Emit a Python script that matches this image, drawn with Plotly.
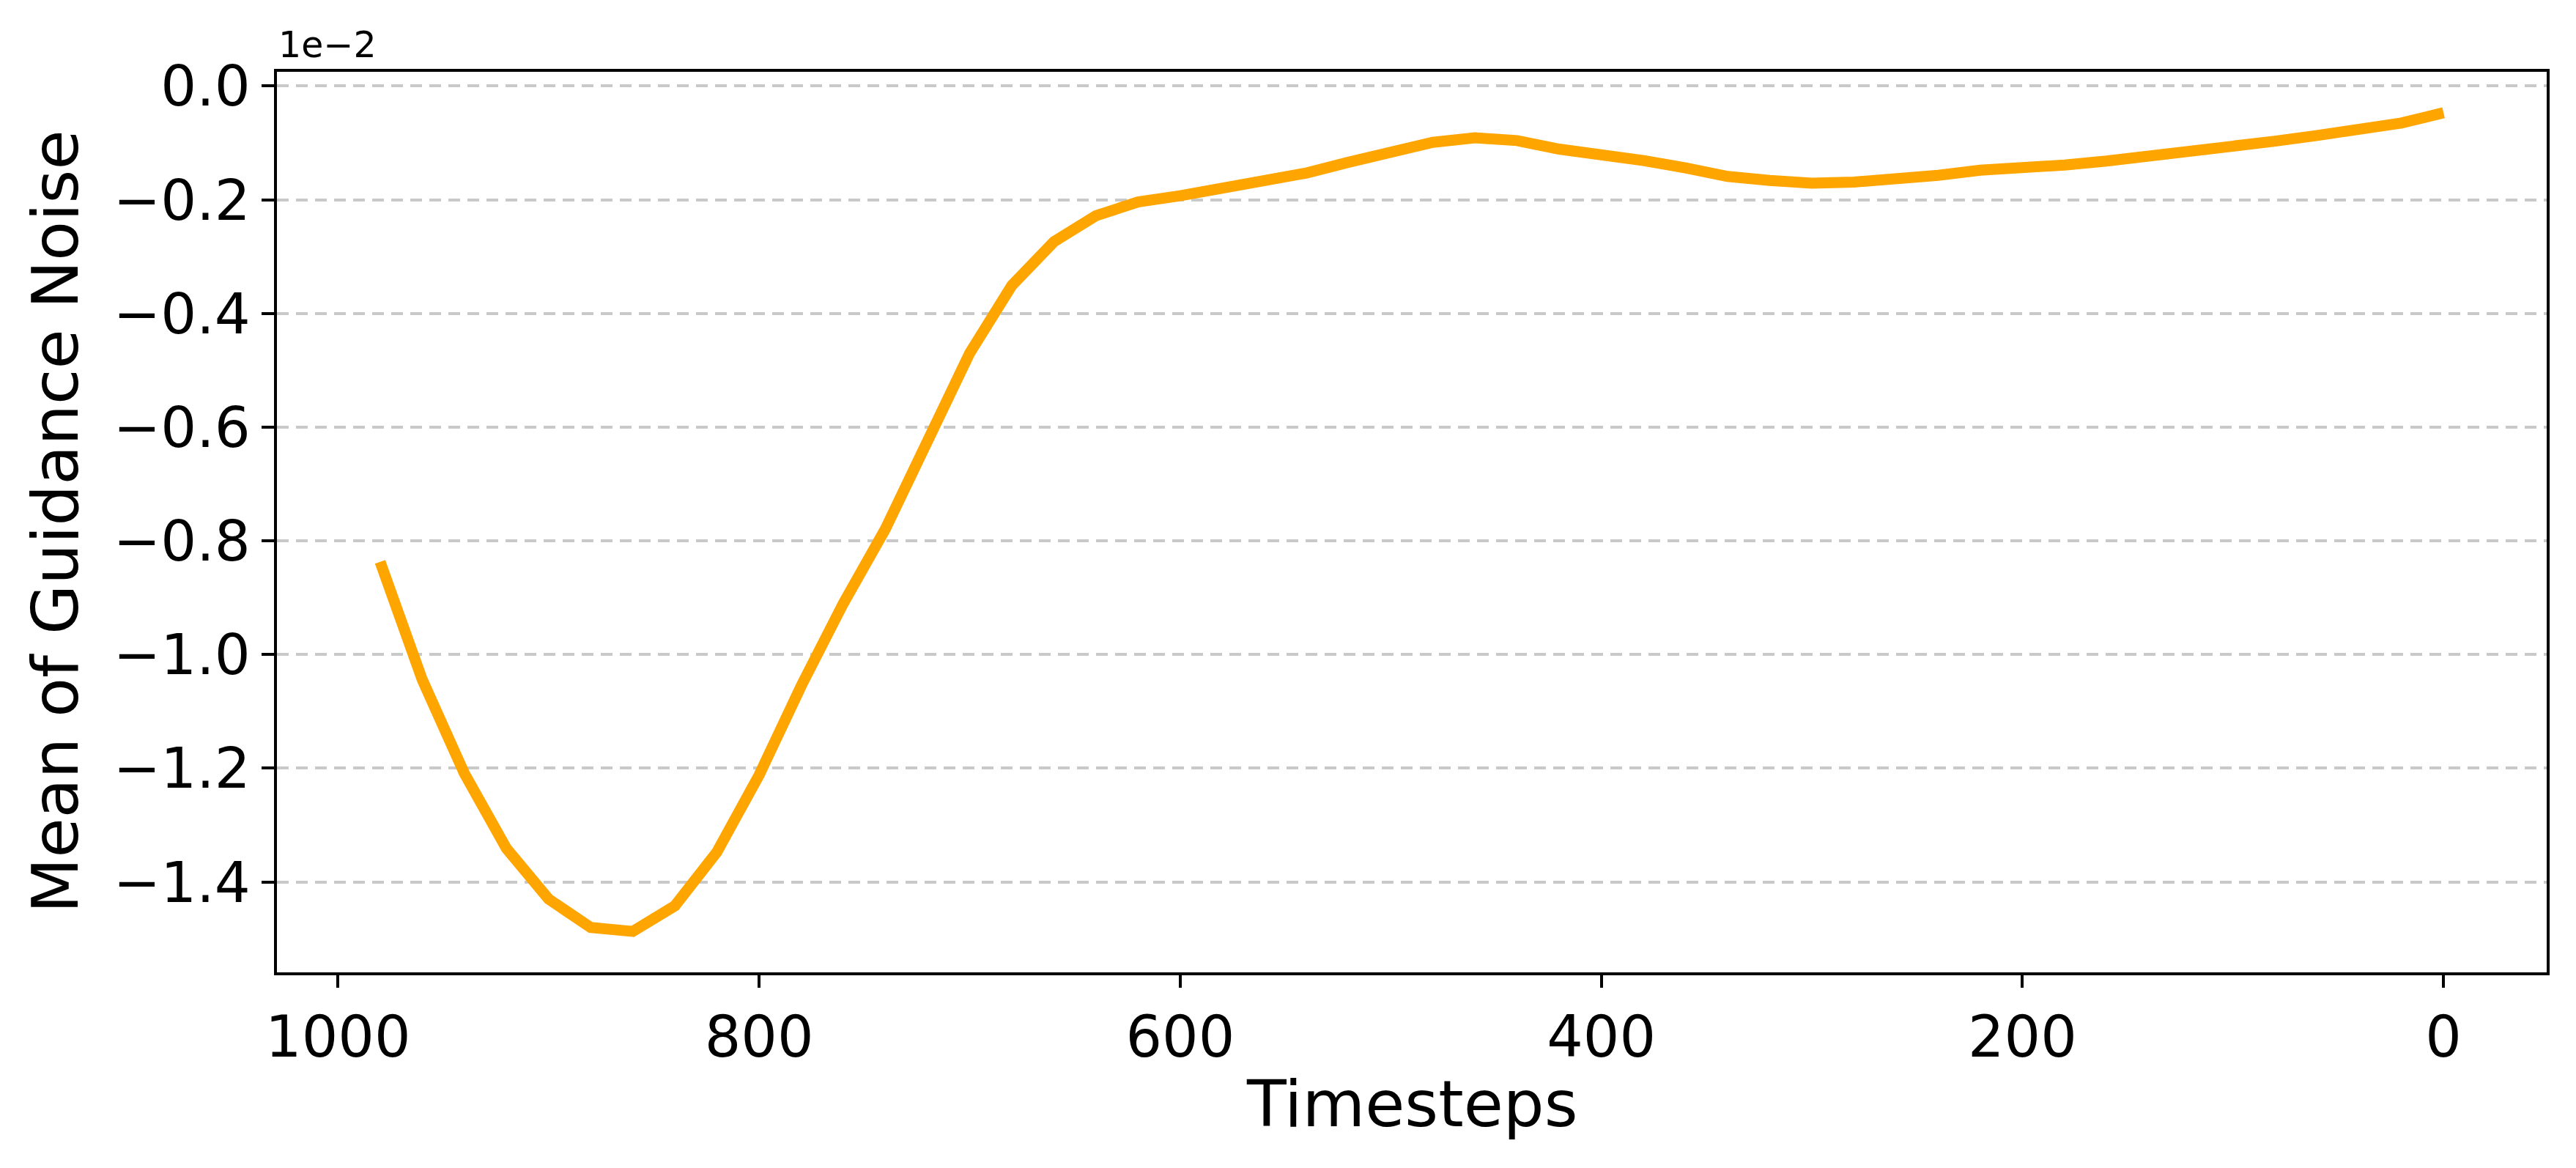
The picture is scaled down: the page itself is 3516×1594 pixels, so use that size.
import plotly.graph_objects as go

# Data (values in units of 1e-2)
timesteps = [980, 960, 940, 920, 900, 880, 860, 840, 820, 800,
             780, 760, 740, 720, 700, 680, 660, 640, 620, 600,
             580, 560, 540, 520, 500, 480, 460, 440, 420, 400,
             380, 360, 340, 320, 300, 280, 260, 240, 220, 200,
             180, 160, 140, 120, 100, 80, 60, 40, 20, 0]
guidance_mean = [-0.837, -1.044, -1.209, -1.341, -1.430, -1.480, -1.487, -1.442, -1.347, -1.212,
                 -1.055, -0.910, -0.779, -0.620, -0.470, -0.351, -0.274, -0.228, -0.204, -0.193,
                 -0.181, -0.169, -0.153, -0.134, -0.117, -0.099, -0.091, -0.096, -0.111, -0.119,
                 -0.131, -0.144, -0.159, -0.166, -0.171, -0.169, -0.164, -0.157, -0.148, -0.1445,
                 -0.139, -0.132, -0.124, -0.115, -0.106, -0.097, -0.087, -0.076, -0.065, -0.047]

x_tickvals = [1000, 800, 600, 400, 200, 0]
x_ticktext = ["1000", "800", "600", "400", "200", "0"]
y_tickvals = [0.0, -0.2, -0.4, -0.6, -0.8, -1.0, -1.2, -1.4]
y_ticktext = ["0.0", "\u22120.2", "\u22120.4", "\u22120.6", "\u22120.8", "\u22121.0", "\u22121.2", "\u22121.4"]

FONT = "DejaVu Sans"

fig = go.Figure()
fig.add_trace(go.Scatter(
    x=timesteps, y=guidance_mean, mode="lines",
    line=dict(color="#FFA500", width=15),
    showlegend=False, hoverinfo="skip",
))

fig.update_layout(
    width=3516, height=1594,
    margin=dict(l=378, r=40, t=98, b=267),
    paper_bgcolor="white", plot_bgcolor="white",
    font=dict(family=FONT, color="black", size=78),
)

fig.update_xaxes(
    range=[1029, -49],
    tickmode="array", tickvals=x_tickvals, ticktext=x_ticktext,
    ticks="outside", ticklen=17, tickwidth=3.9, tickcolor="black",
    tickfont=dict(family=FONT, size=78, color="black"),
    showline=True, linewidth=3.9, linecolor="black", mirror=True,
    showgrid=False, zeroline=False,
)
fig.update_yaxes(
    range=[-1.559, 0.025],
    tickmode="array", tickvals=y_tickvals, ticktext=y_ticktext,
    ticks="outside", ticklen=17, tickwidth=3.9, tickcolor="black",
    tickfont=dict(family=FONT, size=77, color="black"),
    showline=True, linewidth=3.9, linecolor="black", mirror=True,
    showgrid=True, gridcolor="rgba(180,180,180,0.72)", gridwidth=3.5,
    griddash="16px,10px",
    zeroline=False,
)

fig.add_annotation(
    text="Timesteps", xref="paper", yref="paper", x=0.5, y=0,
    xanchor="center", yanchor="middle", yshift=-179, showarrow=False,
    font=dict(family=FONT, size=88, color="black"),
)
fig.add_annotation(
    text="Mean of Guidance Noise", xref="paper", yref="paper", x=0, y=0.5,
    xanchor="center", yanchor="middle", xshift=-303, textangle=-90, showarrow=False,
    font=dict(family=FONT, size=88, color="black"),
)
fig.add_annotation(
    text="1e\u22122", xref="paper", yref="paper", x=0, y=1,
    xanchor="left", yanchor="bottom", yshift=6, showarrow=False,
    font=dict(family=FONT, size=49, color="black"),
)

fig.write_html(
    "out.html",
    config={"displayModeBar": False},
    post_script="document.body.style.margin='0px';document.body.style.overflow='hidden';",
)
